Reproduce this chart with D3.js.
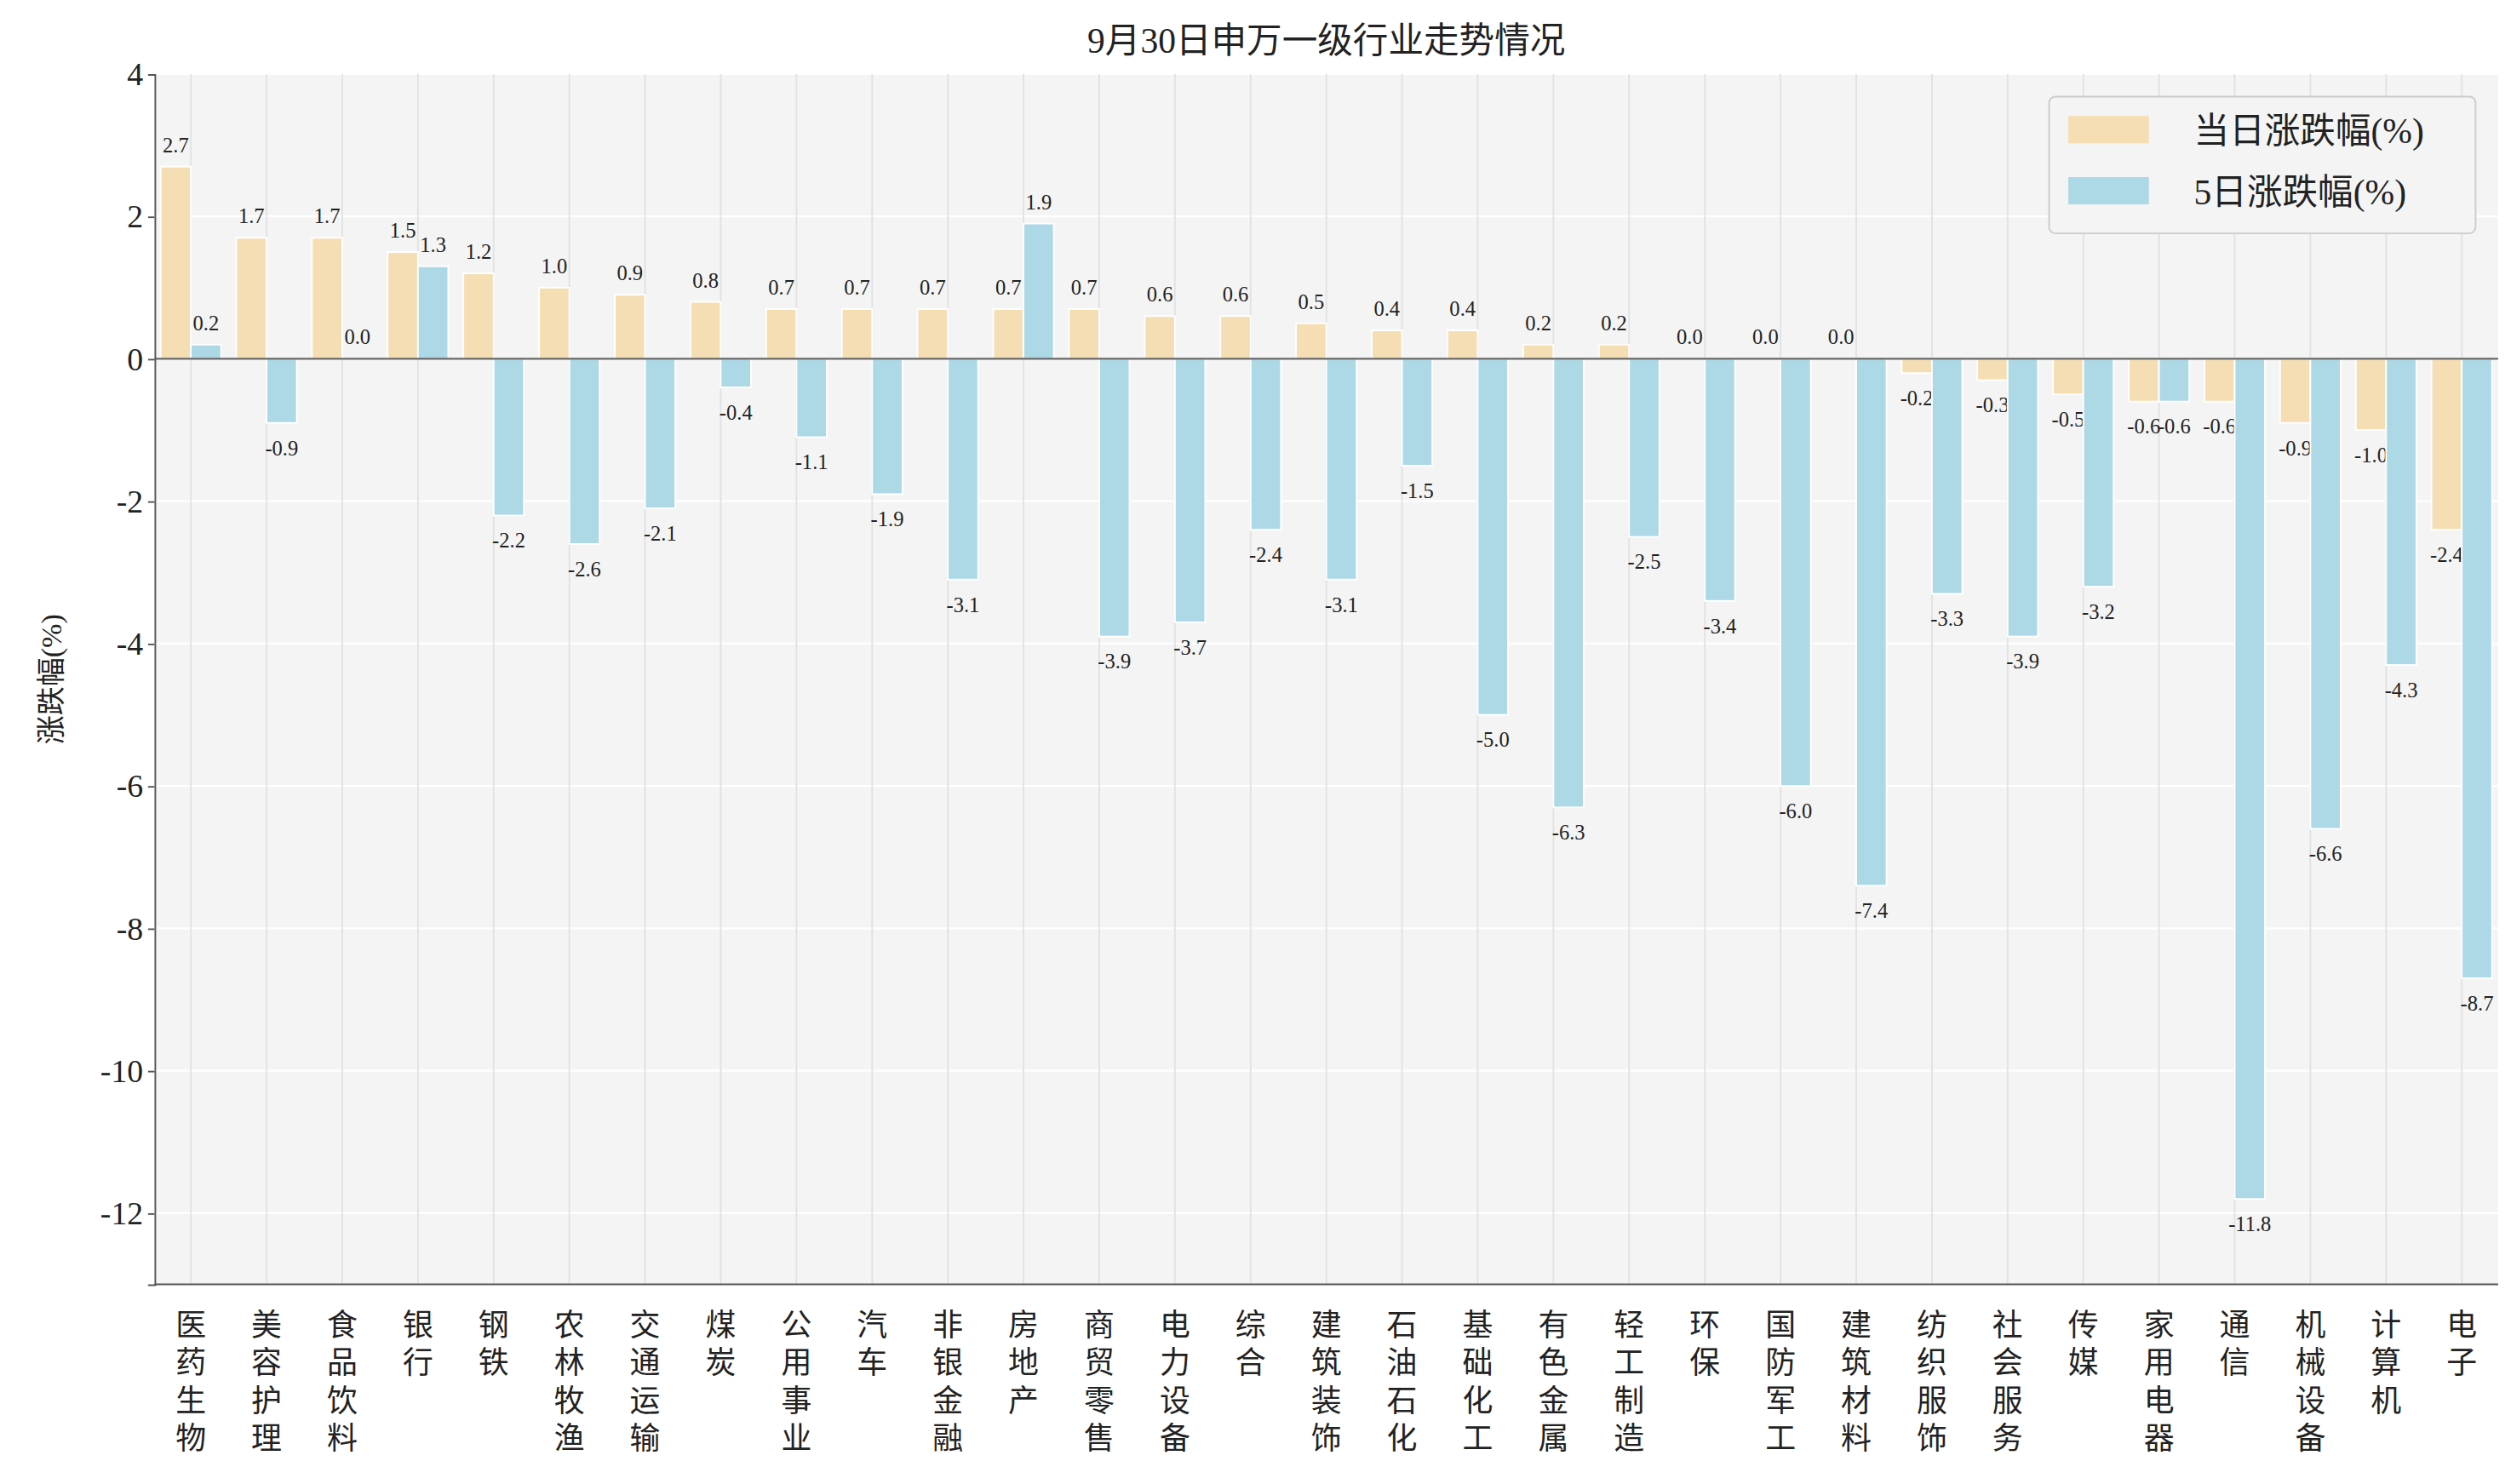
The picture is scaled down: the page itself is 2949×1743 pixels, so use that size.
<!DOCTYPE html>
<html>
<head>
<meta charset="utf-8">
<script src="https://cdnjs.cloudflare.com/ajax/libs/d3/7.8.5/d3.min.js"></script>
<style>
  body { margin: 0; background: #fff; }
  text { font-family: "Liberation Serif", "Noto Sans CJK SC", serif; fill: #222; }
</style>
</head>
<body>
<svg id="chart" width="2949" height="1743" viewBox="0 0 1560 922"></svg>
<script>
var categories = ["医药生物","美容护理","食品饮料","银行","钢铁","农林牧渔","交通运输","煤炭","公用事业","汽车","非银金融","房地产","商贸零售","电力设备","综合","建筑装饰","石油石化","基础化工","有色金属","轻工制造","环保","国防军工","建筑材料","纺织服饰","社会服务","传媒","家用电器","通信","机械设备","计算机","电子"];
var dayChange = [2.7,1.7,1.7,1.5,1.2,1.0,0.9,0.8,0.7,0.7,0.7,0.7,0.7,0.6,0.6,0.5,0.4,0.4,0.2,0.2,0.0,0.0,0.0,-0.2,-0.3,-0.5,-0.6,-0.6,-0.9,-1.0,-2.4];
var fiveDayChange = [0.2,-0.9,0.0,1.3,-2.2,-2.6,-2.1,-0.4,-1.1,-1.9,-3.1,1.9,-3.9,-3.7,-2.4,-3.1,-1.5,-5.0,-6.3,-2.5,-3.4,-6.0,-7.4,-3.3,-3.9,-3.2,-0.6,-11.8,-6.6,-4.3,-8.7];
var yTicks = [-12,-10,-8,-6,-4,-2,0,2,4];
var seriesNames = ["当日涨跌幅(%)", "5日涨跌幅(%)"];
var colors = ["#f5deb3", "#add8e6"];

var svg = d3.select("#chart");
var m = {left: 96, right: 1552, top: 46, bottom: 798};

var x = d3.scaleBand().domain(categories).range([m.left, m.right]).paddingInner(0.2).paddingOuter(0.08);
var y = d3.scaleLinear().domain([-13, 4]).range([m.bottom, m.top]);
var bw = x.bandwidth() / 2;

svg.append("rect").attr("x", m.left).attr("y", m.top).attr("width", m.right - m.left).attr("height", m.bottom - m.top).attr("fill", "#f4f4f4");

// grid
svg.append("g").selectAll("line").data(yTicks).join("line")
  .attr("x1", m.left).attr("x2", m.right).attr("y1", d => y(d)).attr("y2", d => y(d))
  .attr("stroke", "#fff").attr("stroke-width", 1.2);
svg.append("g").selectAll("line").data(categories).join("line")
  .attr("x1", d => x(d) + bw).attr("x2", d => x(d) + bw).attr("y1", m.top).attr("y2", m.bottom)
  .attr("stroke", "#e2e2e2").attr("stroke-width", 1);

[dayChange, fiveDayChange].forEach(function(vals, s) {
  var g = svg.append("g");
  g.selectAll("rect").data(vals).join("rect")
    .attr("x", (d, i) => x(categories[i]) + s * bw)
    .attr("width", bw)
    .attr("y", d => y(Math.max(0, d)))
    .attr("height", d => Math.abs(y(d) - y(0)))
    .attr("fill", colors[s]).attr("stroke", "#fff").attr("stroke-width", 1);
  g.selectAll("text").data(vals).join("text")
    .attr("x", (d, i) => x(categories[i]) + s * bw + bw / 2)
    .attr("y", d => d >= 0 ? y(d) - 9 : y(d) + 20)
    .attr("text-anchor", "middle").attr("font-size", 13)
    .text(d => d.toFixed(1));
});

// zero line
svg.append("line").attr("x1", m.left).attr("x2", m.right).attr("y1", y(0)).attr("y2", y(0)).attr("stroke", "#666").attr("stroke-width", 1.2);

// axes
var ya = svg.append("g").attr("transform", "translate(" + m.left + ",0)")
  .call(d3.axisLeft(y).tickValues(yTicks).tickSize(4).tickFormat(d => String(d)));
ya.selectAll("text").attr("font-size", 20).attr("fill", "#222");
ya.select(".domain").attr("stroke", "#555");
ya.selectAll(".tick line").attr("stroke", "#555");
svg.append("line").attr("x1", m.left).attr("x2", m.right).attr("y1", m.bottom).attr("y2", m.bottom).attr("stroke", "#555");

// x labels: vertical stacked chars
var xl = svg.append("g");
categories.forEach(function(c) {
  var t = xl.append("text").attr("text-anchor", "middle").attr("font-size", 19);
  c.split("").forEach(function(ch, k) {
    t.append("tspan").attr("x", x(c) + bw).attr("y", m.bottom + 32 + k * 23.5).text(ch);
  });
});

svg.append("text").attr("x", 824).attr("y", 33).attr("text-anchor", "middle").attr("font-size", 22).text("9月30日申万一级行业走势情况");
svg.append("text").attr("transform", "translate(38," + y(-4.5) + ") rotate(-90)").attr("text-anchor", "middle").attr("font-size", 18).text("涨跌幅(%)");

// legend
var lg = svg.append("g").attr("transform", "translate(1273,60)");
lg.append("rect").attr("width", 265).attr("height", 85).attr("rx", 4).attr("fill", "#f4f4f4").attr("stroke", "#ccc");
seriesNames.forEach(function(n, i) {
  lg.append("rect").attr("x", 12).attr("y", 12 + i * 38).attr("width", 50).attr("height", 17).attr("fill", colors[i]);
  lg.append("text").attr("x", 90).attr("y", 29 + i * 38).attr("font-size", 22).text(n);
});
</script>
</body>
</html>
